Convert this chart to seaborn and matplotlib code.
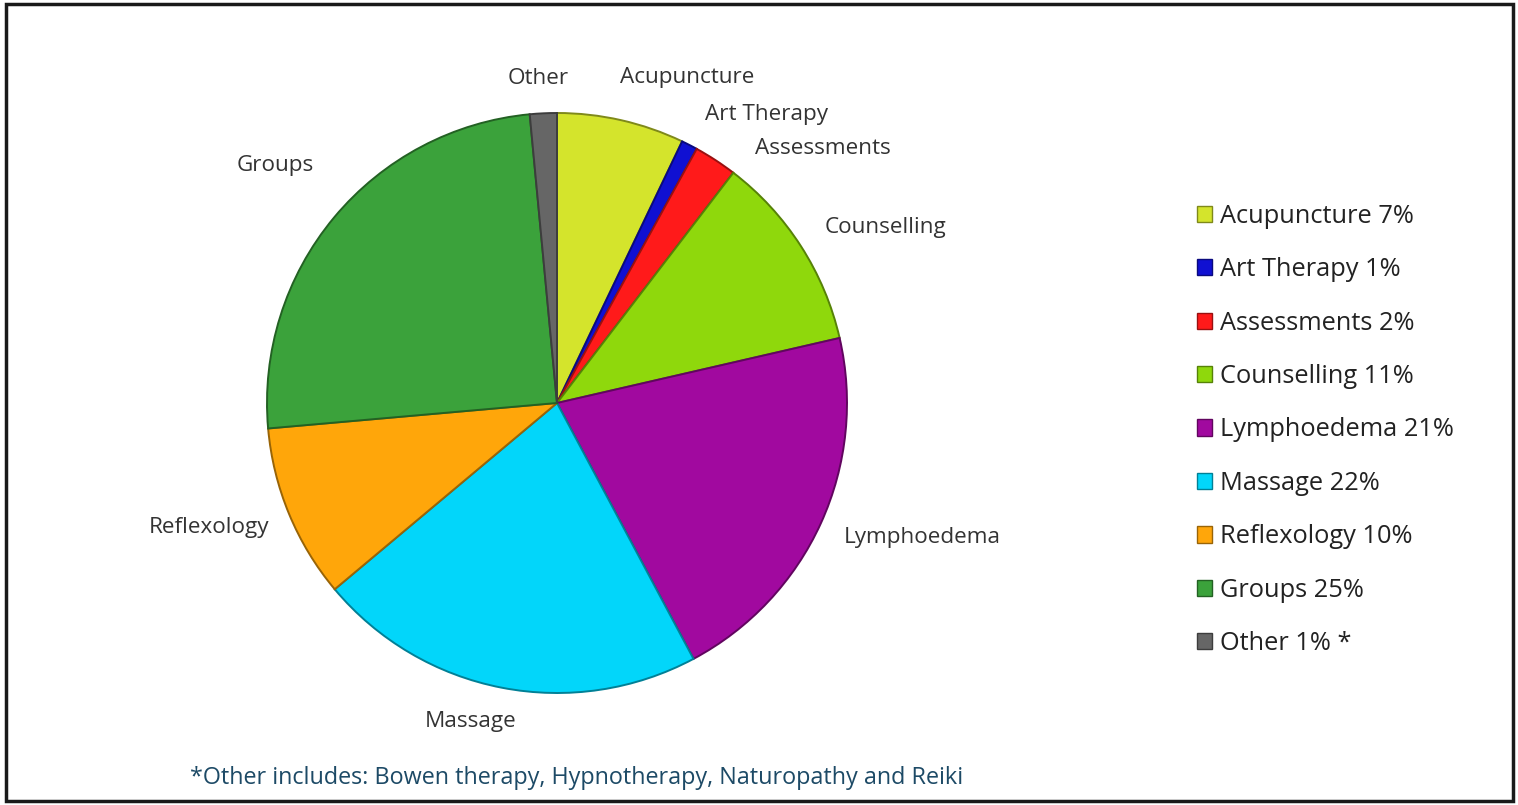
import numpy as np
import seaborn as sns
import matplotlib.pyplot as plt
from matplotlib.patches import Rectangle
from matplotlib.colors import to_rgb

services = ['Acupuncture', 'Art Therapy', 'Assessments', 'Counselling',
            'Lymphoedema', 'Massage', 'Reflexology', 'Groups', 'Other']
shares = [7.1, 0.9, 2.4, 11.0, 20.8, 21.7, 9.7, 24.9, 1.5]
legend_pct = ['7%', '1%', '2%', '11%', '21%', '22%', '10%', '25%', '1% *']
colors = ['#d4e42c', '#1010d2', '#ff1a1a', '#8fd80c', '#a1099f',
          '#02d6fa', '#ffa60a', '#3ba23b', '#666666']
footnote = '*Other includes: Bowen therapy, Hypnotherapy, Naturopathy and Reiki'

sns.set_theme(style='white')
plt.rcParams['font.family'] = ['Open Sans', 'DejaVu Sans']

W, H = 1518, 805
fig = plt.figure(figsize=(W / 100, H / 100), dpi=100)

# pie centred at (557, 403) px, radius ~290 px
cx, cy, half = 557, 403, 300
ax = fig.add_axes([(cx - half) / W, (H - cy - half) / H, 2 * half / W, 2 * half / H])
wedges, texts = ax.pie(shares, labels=services, colors=colors, startangle=90,
                       counterclock=False, radius=290 / half, labeldistance=1.12,
                       wedgeprops=dict(linewidth=1.4),
                       textprops=dict(fontsize=16.2, color='#333333'))
# darker rim on each slice, like the bevelled original
for w, c in zip(wedges, colors):
    w.set_edgecolor(tuple(v * 0.6 for v in to_rgb(c)))

# small nudges so labels sit where the original puts them
nudges = {'Acupuncture': (-0.03, 0.03), 'Art Therapy': (0.0, 0.0),
          'Assessments': (0.07, -0.06), 'Groups': (0.02, 0.1),
          'Other': (0.09, 0.0), 'Massage': (0.07, 0.0), 'Reflexology': (0.04, 0.0),
          'Counselling': (-0.02, 0.0), 'Lymphoedema': (-0.03, 0.0)}
for t in texts:
    dx, dy = nudges[t.get_text()]
    x, y = t.get_position()
    t.set_position((x + dx, y + dy))

ax.set_xlim(-1, 1)
ax.set_ylim(-1, 1)
ax.set_aspect('equal')

handles = [Rectangle((0, 0), 1, 1, facecolor=c, edgecolor=tuple(v * 0.6 for v in to_rgb(c)),
                     linewidth=1.0) for c in colors]
labels = [f'{s} {p}' for s, p in zip(services, legend_pct)]
fig.legend(handles, labels, loc='center left', bbox_to_anchor=(1174 / W, 1 - 430 / H),
           frameon=False, fontsize=18.3, labelspacing=1.12, handlelength=0.6,
           handleheight=0.6, handletextpad=0.3, labelcolor='#222222')

fig.text(190 / W, 1 - 778 / H, footnote, fontsize=16.8, color='#1d4a66',
         ha='left', va='center')

fig.patches.append(Rectangle((6 / W, 4 / H), (1513 - 6) / W, (801 - 4) / H,
                             transform=fig.transFigure, fill=False,
                             edgecolor='#1a1a1a', linewidth=2.5))

fig.savefig('out.png', dpi=100)
